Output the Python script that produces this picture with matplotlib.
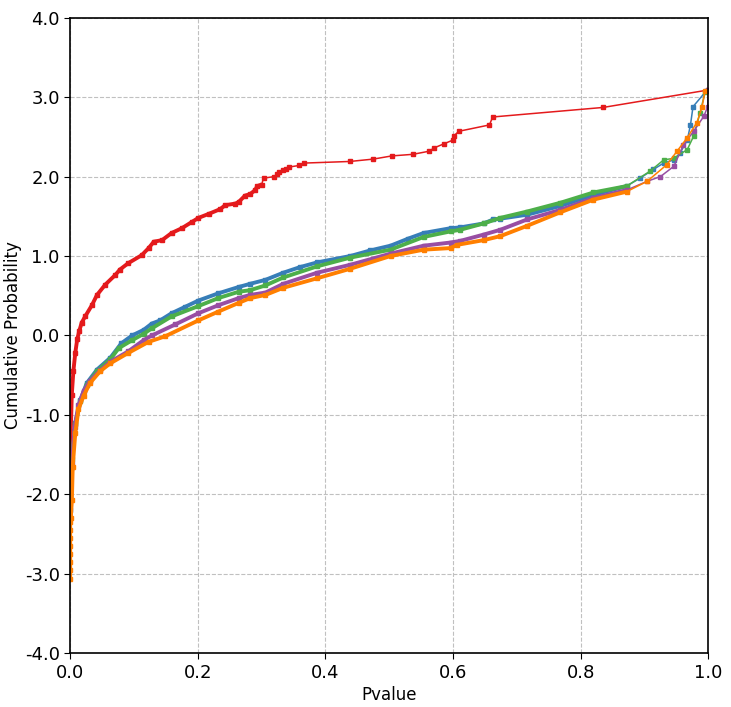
import numpy as np
import matplotlib.pyplot as plt

# series: (pvalue, probit of cumulative probability)
red_x = [0.0, 0.001, 0.0025, 0.005, 0.008, 0.011, 0.014, 0.018, 0.0235, 0.034, 0.042, 0.055, 0.0705, 0.078, 0.091,
         0.112, 0.123, 0.131, 0.144, 0.159, 0.175, 0.191, 0.201, 0.217, 0.235, 0.243, 0.259, 0.264, 0.274, 0.282,
         0.29, 0.293, 0.300, 0.303, 0.320, 0.324, 0.327, 0.333, 0.338, 0.343, 0.359, 0.367, 0.438, 0.475, 0.504,
         0.537, 0.563, 0.570, 0.585, 0.600, 0.601, 0.609, 0.657, 0.662, 0.835, 1.0]
red_y = [-1.7, -1.2, -0.75, -0.45, -0.22, -0.05, 0.05, 0.16, 0.24, 0.38, 0.51, 0.64, 0.76, 0.83, 0.91,
         1.01, 1.10, 1.18, 1.20, 1.29, 1.35, 1.43, 1.48, 1.53, 1.59, 1.64, 1.66, 1.68, 1.76, 1.78,
         1.83, 1.88, 1.90, 1.98, 2.00, 2.03, 2.06, 2.08, 2.10, 2.12, 2.14, 2.17, 2.19, 2.22, 2.26,
         2.28, 2.32, 2.36, 2.41, 2.46, 2.51, 2.57, 2.65, 2.75, 2.87, 3.09]

blue_x = [0.0, 0.0027, 0.008, 0.016, 0.026, 0.042, 0.063, 0.08, 0.097, 0.115, 0.128, 0.141, 0.159, 0.18, 0.201,
          0.232, 0.264, 0.282, 0.306, 0.334, 0.36, 0.387, 0.439, 0.47, 0.502, 0.53, 0.554, 0.596, 0.611, 0.648,
          0.663, 0.674, 0.716, 0.768, 0.820, 0.872, 0.893, 0.914, 0.930, 0.946, 0.956, 0.967, 0.972, 0.976, 0.997]
blue_y = [-2.2, -1.65, -1.10, -0.81, -0.60, -0.43, -0.28, -0.10, 0.0, 0.07, 0.15, 0.19, 0.28, 0.36, 0.44,
          0.53, 0.61, 0.65, 0.70, 0.79, 0.86, 0.92, 1.0, 1.07, 1.13, 1.22, 1.29, 1.35, 1.36, 1.41,
          1.46, 1.47, 1.52, 1.63, 1.77, 1.88, 1.98, 2.09, 2.17, 2.21, 2.30, 2.46, 2.65, 2.88, 3.08]

green_x = [0.0, 0.003, 0.008, 0.016, 0.026, 0.042, 0.063, 0.076, 0.097, 0.115, 0.128, 0.159, 0.201, 0.232, 0.264,
           0.282, 0.306, 0.334, 0.387, 0.439, 0.502, 0.554, 0.596, 0.611, 0.648, 0.674, 0.716, 0.768, 0.820, 0.872,
           0.909, 0.930, 0.946, 0.967, 0.977, 0.987, 0.995]
green_y = [-2.0, -1.55, -1.12, -0.83, -0.62, -0.45, -0.30, -0.16, -0.06, 0.02, 0.09, 0.24, 0.37, 0.47, 0.55,
           0.57, 0.63, 0.73, 0.87, 0.98, 1.08, 1.24, 1.31, 1.33, 1.41, 1.48, 1.56, 1.67, 1.80, 1.88,
           2.07, 2.21, 2.23, 2.34, 2.51, 2.80, 3.07]

purple_x = [0.0, 0.003, 0.007, 0.013, 0.021, 0.031, 0.047, 0.063, 0.091, 0.115, 0.128, 0.165, 0.201, 0.232, 0.264,
            0.282, 0.306, 0.334, 0.387, 0.439, 0.502, 0.554, 0.596, 0.611, 0.648, 0.674, 0.716, 0.768, 0.820, 0.872,
            0.904, 0.925, 0.946, 0.961, 0.977, 0.993, 0.999, 1.0]
purple_y = [-2.3, -1.6, -1.15, -0.88, -0.70, -0.57, -0.44, -0.33, -0.20, -0.06, 0.0, 0.14, 0.28, 0.38, 0.47,
            0.51, 0.54, 0.65, 0.79, 0.89, 1.03, 1.13, 1.17, 1.19, 1.27, 1.33, 1.46, 1.58, 1.73, 1.83,
            1.94, 2.0, 2.13, 2.40, 2.57, 2.76, 2.88, 3.09]

orange_x = [0.0, 0.0, 0.0, 0.0, 0.0, 0.0, 0.0, 0.0, 0.001, 0.0027, 0.004, 0.008, 0.013, 0.021, 0.031, 0.047, 0.063,
            0.091, 0.123, 0.149, 0.201, 0.232, 0.264, 0.282, 0.306, 0.334, 0.387, 0.439, 0.502, 0.554, 0.596, 0.606,
            0.648, 0.674, 0.716, 0.768, 0.820, 0.872, 0.904, 0.935, 0.951, 0.967, 0.982, 0.990, 0.995]
orange_y = [-3.07, -2.95, -2.85, -2.75, -2.65, -2.55, -2.45, -2.35, -2.3, -2.07, -1.65, -1.23, -0.93, -0.76, -0.60,
            -0.45, -0.35, -0.22, -0.08, -0.01, 0.19, 0.30, 0.41, 0.47, 0.51, 0.60, 0.72, 0.84, 1.0, 1.08, 1.10, 1.14,
            1.20, 1.25, 1.38, 1.55, 1.71, 1.81, 1.94, 2.15, 2.32, 2.49, 2.68, 2.87, 3.08]

# (x, y, colour, pvalue up to which the points are packed densely)
series = [(red_x, red_y, '#e41a1c', 0.30), (blue_x, blue_y, '#377eb8', 0.88), (green_x, green_y, '#4daf4a', 0.88),
          (purple_x, purple_y, '#984ea3', 0.88), (orange_x, orange_y, '#ff7f00', 0.88)]

plt.rcParams['font.family'] = ['DejaVu Sans']
fig = plt.figure(figsize=(7.31, 7.07), dpi=100)
ax = fig.add_axes([0.096, 0.076, 0.873, 0.899])

for xs, ys, c, dense in series:
    ax.plot(xs, ys, color=c, lw=1.1, marker='s', ms=3, mec=c, mfc=c)
    xs = np.array(xs)
    ys = np.array(ys)
    m = xs <= dense
    # the densely sampled part reads as a thick band in the reference
    ax.plot(xs[m], ys[m], color=c, lw=2.8, solid_capstyle='butt')

ax.set_xlim(0, 1)
ax.set_ylim(-4, 4)
ax.set_xticks(np.arange(0, 1.01, 0.2))
ax.set_yticks(np.arange(-4, 4.01, 1))
ax.set_xticklabels(['%.1f' % v for v in np.arange(0, 1.01, 0.2)])
ax.set_yticklabels(['%.1f' % v for v in np.arange(-4, 4.01, 1)])
ax.tick_params(labelsize=13, length=4, color='black')
ax.grid(True, ls='--', color='#c0c0c0', lw=0.8)
for s in ax.spines.values():
    s.set_color('black')
    s.set_linewidth(1.2)

ax.set_xlabel('Pvalue', fontsize=12, labelpad=3)
ax.set_ylabel('Cumulative Probability', fontsize=12, labelpad=2)

fig.savefig('out.png', dpi=100)
